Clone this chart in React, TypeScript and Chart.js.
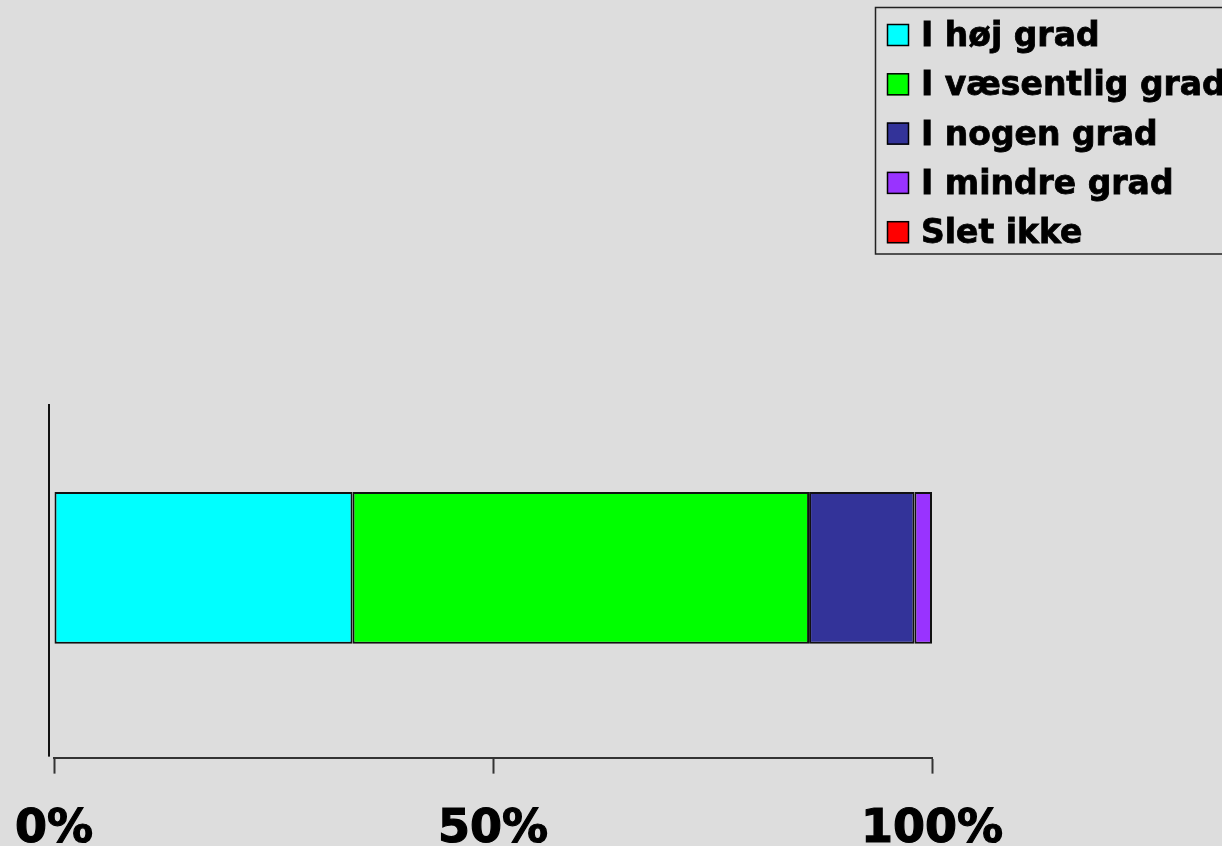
import React, { useEffect, useRef } from "react";
import { Chart, registerables } from "chart.js";

Chart.register(...registerables);

// Response categories and their share (%) of answers
const categories: string[] = [""];
const seriesNames: string[] = ["I høj grad", "I væsentlig grad", "I nogen grad", "I mindre grad", "Slet ikke"];
const seriesValues: number[][] = [[34], [52], [12], [2], [0]];
const seriesColors: string[] = ["#00FFFF", "#00FF00", "#333399", "#9933FF", "#FF0000"];
const tickValues: number[] = [0, 50, 100];

const FONT = "'DejaVu Sans', Verdana, sans-serif";

// Category-axis line, drawn a little left of the plot and starting below its top
const valueAxisLine = {
  id: "valueAxisLine",
  afterDraw(chart: any) {
    const { ctx, chartArea } = chart;
    ctx.save();
    ctx.fillStyle = "#111";
    ctx.fillRect(chartArea.left - 6, chartArea.top + 26, 2, chartArea.bottom - chartArea.top - 27);
    ctx.restore();
  },
};

// Boxed legend in the upper-right corner, one row per dataset
const boxedLegend = {
  id: "boxedLegend",
  afterDraw(chart: any) {
    const { ctx } = chart;
    const datasets = chart.data.datasets;
    const left = 875;
    const top = 7;
    const pitch = 49.3;
    ctx.save();
    ctx.strokeStyle = "#222";
    ctx.lineWidth = 1.5;
    ctx.strokeRect(left + 0.5, top + 0.5, 400, datasets.length * pitch);
    ctx.font = `bold 33px ${FONT}`;
    ctx.textBaseline = "alphabetic";
    ctx.textAlign = "left";
    datasets.forEach((ds: any, i: number) => {
      const y = top + 17 + i * pitch;
      ctx.fillStyle = ds.backgroundColor;
      ctx.fillRect(left + 12, y, 22, 22);
      ctx.strokeStyle = "#000";
      ctx.lineWidth = 1.5;
      ctx.strokeRect(left + 12.5, y + 0.5, 21, 21);
      ctx.fillStyle = "#000";
      ctx.strokeStyle = "#000";
      ctx.lineWidth = 0.8;
      ctx.fillText(ds.label, left + 46, y + 22);
      ctx.strokeText(ds.label, left + 46, y + 22);
    });
    ctx.restore();
  },
};

export default function App() {
  const canvasRef = useRef<HTMLCanvasElement | null>(null);

  useEffect(() => {
    if (!canvasRef.current) return;
    const chart = new Chart(canvasRef.current, {
      type: "bar",
      data: {
        labels: categories,
        datasets: seriesNames.map((name, i) => ({
          label: name,
          data: seriesValues[i],
          backgroundColor: seriesColors[i],
          borderColor: "#111",
          borderWidth: 2,
          borderSkipped: false,
          categoryPercentage: 1,
          barPercentage: 0.4,
        })),
      },
      options: {
        indexAxis: "y",
        animation: false,
        responsive: false,
        maintainAspectRatio: false,
        layout: { padding: { top: 378, left: 54, right: 290, bottom: -41 } },
        plugins: {
          legend: { display: false },
          tooltip: { enabled: false },
        },
        scales: {
          x: {
            stacked: true,
            min: 0,
            max: 100,
            afterBuildTicks: (scale: any) => {
              scale.ticks = tickValues.map((v) => ({ value: v }));
            },
            ticks: {
              callback: (v: any) => `${v}%`,
              color: "#000",
              textStrokeColor: "#000",
              textStrokeWidth: 1.2,
              font: { family: FONT, size: 46, weight: "bold", lineHeight: 2.03 },
              padding: 10,
              maxRotation: 0,
              autoSkip: false,
            },
            grid: {
              drawOnChartArea: false,
              drawTicks: true,
              tickLength: 16,
              tickWidth: 2,
              color: "#333",
            },
            border: { display: true, color: "#333", width: 2 },
          },
          y: {
            stacked: true,
            display: false,
          },
        },
      },
      plugins: [valueAxisLine, boxedLegend],
    });
    return () => chart.destroy();
  }, []);

  return (
    <div style={{ position: "fixed", left: 0, top: 0, width: 1222, height: 846, background: "#DDDDDD" }}>
      <canvas ref={canvasRef} width={1222} height={846} style={{ width: 1222, height: 846, display: "block" }} />
    </div>
  );
}
